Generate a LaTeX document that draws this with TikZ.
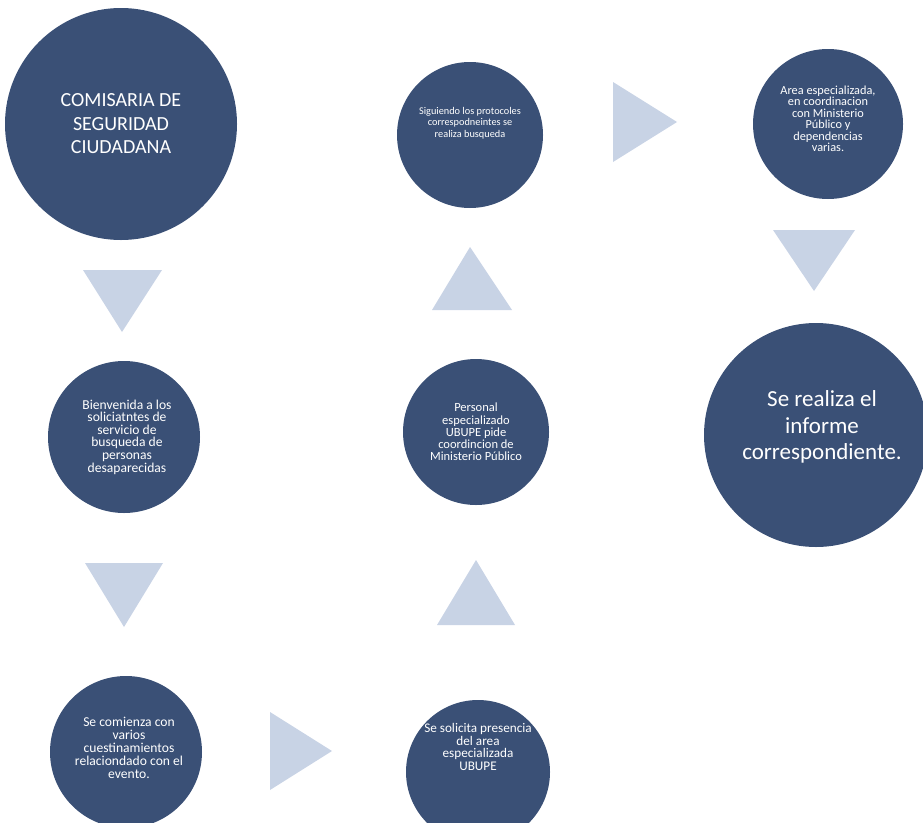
\documentclass[tikz,border=0pt]{standalone}
\usepackage{fontspec}
\newfontfamily\calfont{Carlito}
\definecolor{circblue}{RGB}{58,80,118}
\definecolor{triblue}{RGB}{200,211,229}
\begin{document}
\begin{tikzpicture}[x=1pt,y=-1pt,
  stage/.style={circle, fill=circblue, draw=none, inner sep=0pt},
  stagetext/.style={text=white, align=center, inner sep=0pt},
  arrowtri/.style={fill=triblue, draw=none}]
\useasboundingbox (0,0) rectangle (923,822);
% circles
\node[stage, minimum size=232] (c1) at (121,124) {};
\node[stage, minimum size=146] (c2) at (470,135) {};
\node[stage, minimum size=150] (c3) at (828,124) {};
\node[stage, minimum size=152] (c4) at (124,437) {};
\node[stage, minimum size=146] (c5) at (476,432) {};
\node[stage, minimum size=224] (c6) at (816,435) {};
\node[stage, minimum size=152] (c7) at (126,752) {};
\node[stage, minimum size=144] (c8) at (478,772) {};
% texts
\node[stagetext, font={\calfont\fontsize{20}{23.5}\selectfont}] (t1) at (c1.center) {COMISARIA DE\\SEGURIDAD\\CIUDADANA};
\node[stagetext, font={\calfont\fontsize{10.3}{11.3}\selectfont}] (t2) at ([yshift=12]c2.center) {Siguiendo los protocoles\\correspodneintes se\\realiza busqueda};
\node[stagetext, font={\calfont\fontsize{12.3}{11.5}\selectfont}] (t3) at ([yshift=5]c3.center) {Area especializada,\\en coordinacion\\con Ministerio\\Público y\\dependencias\\varias.};
\node[stagetext, font={\calfont\fontsize{13.6}{12.6}\selectfont}] (t4) at ([xshift=3]c4.center) {Bienvenida a los\\soliciatntes de\\servicio de\\busqueda de\\personas\\desaparecidas};
\node[stagetext, font={\calfont\fontsize{12.5}{12.2}\selectfont}] (t5) at (c5.center) {Personal\\especializado\\UBUPE pide\\coordincion de\\Ministerio Público};
\node[stagetext, font={\calfont\fontsize{23}{26.7}\selectfont}] (t6) at ([xshift=6,yshift=8]c6.center) {Se realiza el\\informe\\correspondiente.};
\node[stagetext, font={\calfont\fontsize{13.6}{13}\selectfont}] (t7) at ([xshift=3,yshift=4]c7.center) {Se comienza con\\varios\\cuestinamientos\\relaciondado con el\\evento.};
\node[stagetext, font={\calfont\fontsize{13.2}{12.7}\selectfont}] (t8) at ([yshift=25]c8.center) {Se solicita presencia\\del area\\especializada\\UBUPE};
% triangle arrows
\fill[arrowtri] (83,270) -- (162,270) -- (122,332) -- cycle;
\fill[arrowtri] (85,563) -- (163,563) -- (124,627) -- cycle;
\fill[arrowtri] (270,712) -- (270,790) -- (332,751) -- cycle;
\fill[arrowtri] (437,625) -- (515,625) -- (476,560) -- cycle;
\fill[arrowtri] (432,310) -- (512,310) -- (470,247) -- cycle;
\fill[arrowtri] (613,82) -- (613,162) -- (677,122) -- cycle;
\fill[arrowtri] (773,230) -- (855,230) -- (814,291) -- cycle;
\end{tikzpicture}
\end{document}
